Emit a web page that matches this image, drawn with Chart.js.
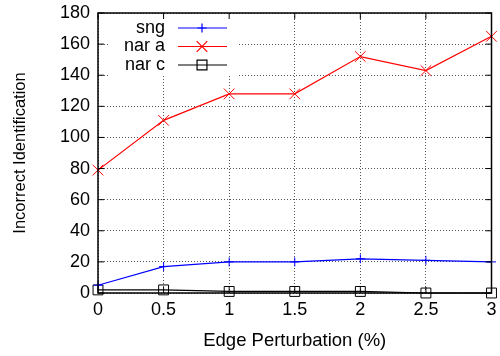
<!DOCTYPE html>
<html>
<head>
<meta charset="utf-8">
<script src="https://cdn.jsdelivr.net/npm/chart.js@4"></script>
<style>
  html, body { margin: 0; padding: 0; background: #fff; }
  #wrap { width: 500px; height: 356px; }
</style>
</head>
<body>
<div id="wrap"><canvas id="chart" width="500" height="356"></canvas></div>
<script>
// ── Data ────────────────────────────────────────────
const perturbation = [0, 0.5, 1, 1.5, 2, 2.5, 3];
const sngValues = [5, 17, 20, 20, 22, 21, 20];
const narAValues = [79, 111, 128, 128, 152, 143, 165];
const narCValues = [2, 2, 1, 1, 1, 0, 0];

const FONT = '"Liberation Sans", Arial, sans-serif';
const FONT_SIZE = 18;

const toPoints = (vals) => vals.map((v, i) => ({ x: perturbation[i], y: v }));

const series = [
  { label: 'sng', data: sngValues, color: '#0000ff', style: 'cross', radius: 4.5 },
  { label: 'nar a', data: narAValues, color: '#ff0000', style: 'crossRot', radius: 7.5 },
  { label: 'nar c', data: narCValues, color: '#000000', style: 'rect', radius: 7 },
];

// ── key background (blanks the grid behind it) ─────
const keyBackground = {
  id: 'keyBackground',
  beforeDatasetsDraw(chart) {
    const { ctx, chartArea: a } = chart;
    ctx.save();
    ctx.fillStyle = '#fff';
    ctx.fillRect(108, a.top + 1, 129, 75 - a.top);
    ctx.restore();
  }
};

// ── gnuplot-ish frame, inner ticks and key ─────────
const framePlugin = {
  id: 'frame',
  afterDraw(chart) {
    const { ctx, chartArea: a, scales } = chart;
    ctx.save();
    ctx.strokeStyle = '#000';
    ctx.lineWidth = 1.5;
    ctx.strokeRect(a.left, a.top, a.right - a.left, a.bottom - a.top);

    ctx.lineWidth = 1;
    ctx.beginPath();
    scales.x.ticks.forEach((t) => {
      const px = scales.x.getPixelForValue(t.value);
      ctx.moveTo(px, a.bottom); ctx.lineTo(px, a.bottom - 6);
      ctx.moveTo(px, a.top); ctx.lineTo(px, a.top + 6);
    });
    scales.y.ticks.forEach((t) => {
      const py = scales.y.getPixelForValue(t.value);
      ctx.moveTo(a.left, py); ctx.lineTo(a.left + 6, py);
      ctx.moveTo(a.right, py); ctx.lineTo(a.right - 6, py);
    });
    ctx.stroke();

    // key
    ctx.font = FONT_SIZE + 'px ' + FONT;
    ctx.textAlign = 'right';
    ctx.textBaseline = 'middle';
    series.forEach((s, i) => {
      const y = 28 + i * 18.5;
      ctx.fillStyle = '#000';
      ctx.fillText(s.label, 165, y);
      ctx.strokeStyle = s.color;
      ctx.fillStyle = 'rgba(0,0,0,0)';
      ctx.lineWidth = 1.2;
      ctx.beginPath();
      ctx.moveTo(178, y); ctx.lineTo(227, y);
      ctx.stroke();
      Chart.helpers.drawPoint(ctx, {
        pointStyle: s.style, radius: s.radius, borderWidth: 1
      }, 202, y);
    });
    ctx.restore();
  }
};

new Chart(document.getElementById('chart'), {
  type: 'line',
  data: {
    datasets: series.map((s) => ({
      label: s.label,
      data: toPoints(s.data),
      borderColor: s.color,
      backgroundColor: 'transparent',
      borderWidth: 1.2,
      pointStyle: s.style,
      pointRadius: s.radius,
      pointBorderWidth: 1,
      pointBorderColor: s.color,
      pointBackgroundColor: 'transparent',
      tension: 0,
      clip: false,
    })),
  },
  options: {
    responsive: false,
    animation: false,
    devicePixelRatio: 1,
    layout: { padding: { left: 7, right: 8, top: 13, bottom: 0 } },
    plugins: { legend: { display: false }, tooltip: { enabled: false } },
    scales: {
      x: {
        type: 'linear',
        min: 0, max: 3,
        ticks: {
          stepSize: 0.5, color: '#000', padding: 6,
          font: { family: FONT, size: FONT_SIZE },
          callback: (v) => String(v),
        },
        grid: { color: '#555', drawTicks: false },
        border: { display: false, dash: [1, 2] },
        title: {
          display: true, text: 'Edge Perturbation (%)', color: '#000',
          font: { family: FONT, size: 18.5 }, padding: { top: 6 },
        },
        afterFit: (scale) => {
          scale.height = 63;
          scale.paddingLeft = 0;
          scale.paddingRight = 0;
        },
      },
      y: {
        min: 0, max: 180,
        ticks: {
          stepSize: 20, color: '#000', padding: 8,
          font: { family: FONT, size: FONT_SIZE },
        },
        grid: { color: '#555', drawTicks: false },
        border: { display: false, dash: [1, 2] },
        title: {
          display: true, text: 'Incorrect Identification', color: '#000',
          font: { family: FONT, size: 16.5 }, padding: { bottom: 6 },
        },
        afterFit: (scale) => {
          scale.width = 91;
          scale.paddingTop = 0;
          scale.paddingBottom = 0;
        },
      },
    },
  },
  plugins: [keyBackground, framePlugin],
});
</script>
</body>
</html>
